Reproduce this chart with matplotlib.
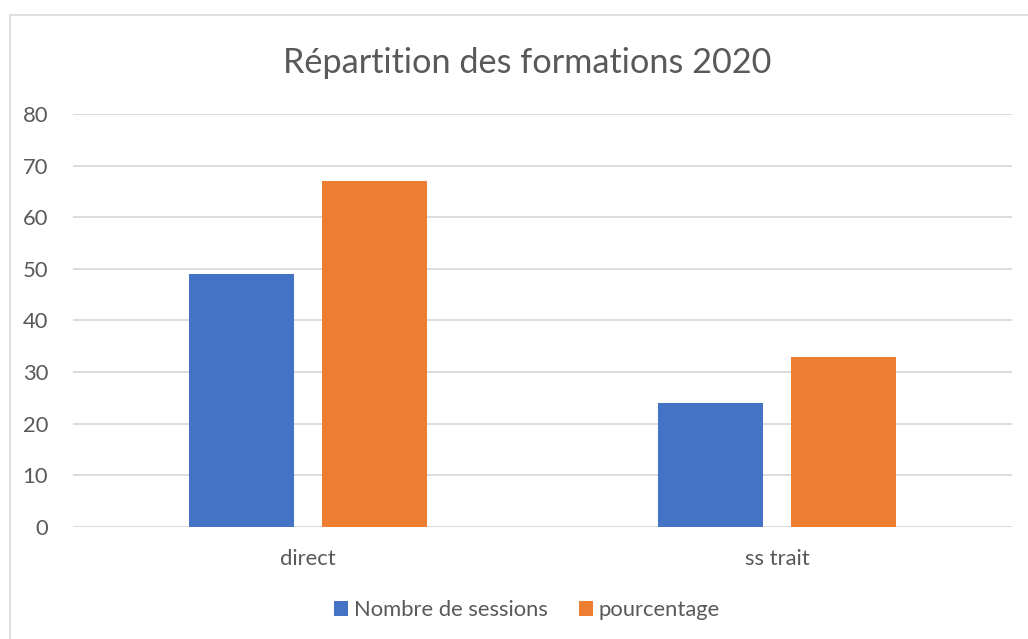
import matplotlib
matplotlib.use("Agg")
import matplotlib.pyplot as plt
from matplotlib.patches import Rectangle
import numpy as np

categories = ["direct", "ss trait"]
sessions = [49, 24]
pourcentage = [67, 33]
series_names = ["Nombre de sessions", "pourcentage"]
colors = ["#4472C4", "#ED7D31"]
title = "Répartition des formations 2020"

plt.rcParams['font.family'] = ['Lato', 'DejaVu Sans']

fig = plt.figure(figsize=(10.28, 6.39), dpi=100)
ax = fig.add_axes([0.071, 0.1753, 0.9134, 0.6463])

x = np.arange(len(categories))
w = 0.2236
off = 0.142
ax.bar(x - off, sessions, w, color=colors[0], label=series_names[0], zorder=3)
ax.bar(x + off, pourcentage, w, color=colors[1], label=series_names[1], zorder=3)

ax.set_xlim(-0.5, 1.5)
ax.set_ylim(0, 80)
ax.set_yticks(np.arange(0, 81, 10))
ax.set_xticks(x)
ax.set_xticklabels(categories)
ax.grid(axis='y', color='#D9D9D9', linewidth=1.3, zorder=0)
for s in ax.spines.values():
    s.set_visible(False)
ax.tick_params(axis='both', length=0, colors='#595959', labelsize=15.8)
ax.tick_params(axis='x', pad=16)
ax.tick_params(axis='y', pad=18)

fig.text(0.5125, 0.902, title, ha='center', va='center', fontsize=24.7, color='#595959')

leg = fig.legend(loc='center', bbox_to_anchor=(0.5125, 0.045), ncol=2, frameon=False,
                 fontsize=15.8, handlelength=0.65, handleheight=0.65, handletextpad=0.25,
                 columnspacing=1.4)
for t in leg.get_texts():
    t.set_color('#595959')

fig.patches.append(Rectangle((10/1028, -0.1), 1.2, 1.1 - 15/639, transform=fig.transFigure,
                             fill=False, edgecolor='#D9D9D9', linewidth=1.2))

fig.savefig("out.png", dpi=100)
